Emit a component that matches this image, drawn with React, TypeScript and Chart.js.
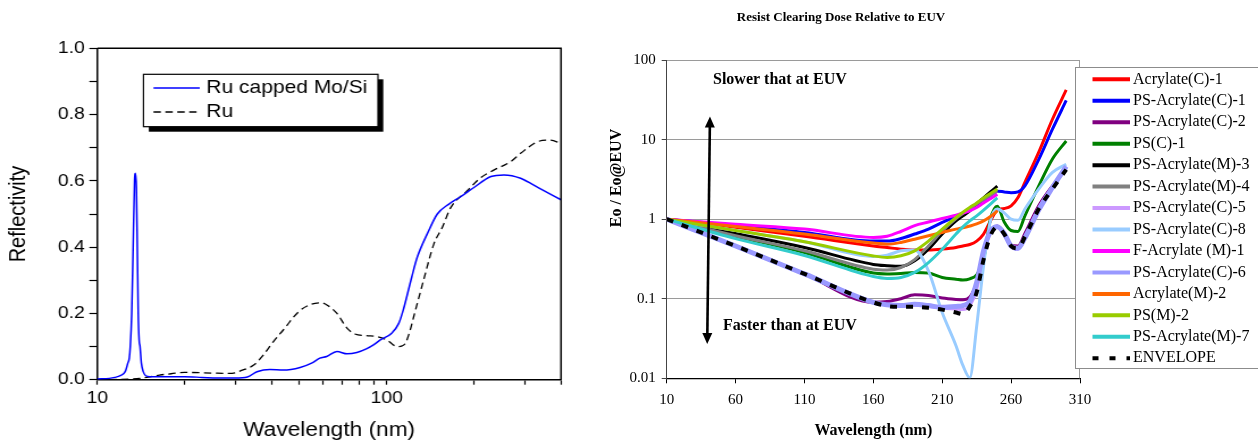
import React, { useEffect, useRef } from "react";
import { Chart, registerables } from "chart.js";

Chart.register(...registerables);

const SANS = '"Liberation Sans", Arial, sans-serif';
const SERIF = '"Liberation Serif", "Times New Roman", serif';

// ---------------- Left chart data (Reflectivity) ----------------
const ruCappedWavelength = [10, 11, 11.5, 12, 12.5, 12.75, 12.9, 13, 13.15, 13.3, 13.45, 13.55, 13.65, 13.75, 13.85, 13.95, 14.05, 14.2, 14.4, 14.7, 15.2, 17, 20, 23, 26, 30, 33, 35.6, 39.5, 43.9, 50.2, 55, 58.7, 62, 67.3, 73, 78.8, 85, 90, 95, 104, 110, 114, 118, 122, 127.5, 138, 149.5, 164, 180, 200, 229, 254, 290, 322, 350, 400];
const ruCappedReflectivity = [0.002, 0.004, 0.007, 0.012, 0.025, 0.05, 0.065, 0.1, 0.2, 0.4, 0.6, 0.623, 0.58, 0.4, 0.2, 0.12, 0.1, 0.05, 0.025, 0.012, 0.009, 0.009, 0.009, 0.007, 0.005, 0.005, 0.008, 0.024, 0.031, 0.029, 0.037, 0.05, 0.065, 0.07, 0.085, 0.078, 0.082, 0.093, 0.105, 0.12, 0.14, 0.17, 0.21, 0.26, 0.31, 0.37, 0.44, 0.5, 0.53, 0.552, 0.58, 0.613, 0.618, 0.608, 0.587, 0.57, 0.543];
const ruWavelength = [10, 12, 13, 14, 15, 16.4, 18, 20, 25, 28, 30, 31.5, 34.7, 37.5, 40.6, 43.9, 49.6, 55, 59.6, 63, 67.3, 73, 77.6, 85, 92.6, 100, 108.8, 113, 116, 120, 123.9, 134, 145.5, 155.6, 166.5, 189.7, 210, 235, 268, 290, 331.5, 366.5, 400];
const ruReflectivity = [0, 0.001, 0.002, 0.004, 0.008, 0.014, 0.018, 0.022, 0.02, 0.019, 0.021, 0.028, 0.044, 0.075, 0.115, 0.15, 0.205, 0.228, 0.232, 0.222, 0.2, 0.155, 0.138, 0.133, 0.13, 0.12, 0.1, 0.102, 0.11, 0.145, 0.19, 0.3, 0.41, 0.46, 0.52, 0.57, 0.608, 0.633, 0.658, 0.683, 0.718, 0.723, 0.713];
const reflectivityLabels = ["Ru capped Mo/Si", "Ru"];
const leftXTickValues = [10, 20, 30, 40, 50, 60, 70, 80, 90, 100, 200, 300, 400];
const leftXLabelled = [10, 100];

// ---------------- Right chart data (Eo / Eo@EUV) ----------------
const doseWavelength = [10, 60, 110, 160, 170, 180, 190, 200, 210, 220, 225, 230, 235, 240, 245, 250, 255, 260, 265, 270, 280, 290, 300];
const acrylateC1 = [1, 0.79, 0.61, 0.46, 0.44, 0.42, 0.41, 0.41, 0.42, 0.44, 0.46, 0.48, 0.53, 0.65, 0.95, 1.3, 1.36, 1.47, 1.87, 2.9, 6.9, 18, 42];
const psAcrylateC1 = [1, 0.83, 0.68, 0.53, 0.53, 0.57, 0.65, 0.75, 0.91, 1.08, 1.18, 1.3, 1.45, 1.65, 1.95, 2.25, 2.2, 2.15, 2.2, 2.62, 5.6, 13.5, 31];
const psAcrylateC2 = [1, 0.46, 0.205, 0.09, 0.092, 0.1, 0.112, 0.11, 0.102, 0.098, 0.097, 0.105, 0.16, 0.38, 0.7, 0.82, 0.64, 0.47, 0.46, 0.66, 1.47, 2.62, 4.25];
const psC1 = [1, 0.61, 0.38, 0.21, 0.205, 0.208, 0.214, 0.21, 0.185, 0.176, 0.172, 0.178, 0.2, 0.31, 1.0, 1.45, 0.92, 0.72, 0.7, 1.1, 2.6, 5.7, 9.6];
const psAcrylateM3 = [1, 0.66, 0.44, 0.27, 0.26, 0.255, 0.3, 0.42, 0.65, 0.95, 1.1, 1.27, 1.55, 1.85, 2.2, 2.6, null, null, null, null, null, null, null];
const psAcrylateM4 = [1, 0.62, 0.4, 0.235, 0.23, 0.247, 0.31, 0.46, 0.71, 1.02, 1.18, 1.34, 1.55, 1.75, 1.98, 2.25, null, null, null, null, null, null, null];
const psAcrylateC5 = [1, 0.46, 0.205, 0.09, 0.083, 0.081, 0.083, 0.08, 0.076, 0.074, 0.073, 0.082, 0.13, 0.36, 0.68, 0.8, 0.65, 0.45, 0.42, 0.6, 1.38, 2.55, 4.6];
const psAcrylateC8 = [1, 0.72, 0.52, 0.34, 0.353, 0.4, 0.41, 0.224, 0.067, 0.0256, 0.0145, 0.0102, 0.045, 0.26, 0.95, 1.34, 1.2, 1.0, 0.97, 1.34, 2.38, 3.86, 4.9];
const fAcrylateM1 = [1, 0.86, 0.75, 0.59, 0.61, 0.7, 0.83, 0.92, 1.02, 1.12, 1.19, 1.27, 1.4, 1.6, 1.8, 2.05, null, null, null, null, null, null, null];
const psAcrylateC6 = [1, 0.46, 0.205, 0.09, 0.084, 0.082, 0.085, 0.082, 0.078, 0.08, 0.082, 0.092, 0.16, 0.4, 0.7, 0.8, 0.66, 0.46, 0.43, 0.58, 1.3, 2.5, 4.6];
const acrylateM2 = [1, 0.81, 0.65, 0.5, 0.485, 0.51, 0.56, 0.62, 0.68, 0.75, 0.78, 0.82, 0.87, 0.95, 1.08, 1.27, null, null, null, null, null, null, null];
const psM2 = [1, 0.72, 0.52, 0.345, 0.33, 0.346, 0.4, 0.53, 0.75, 1.05, 1.22, 1.4, 1.6, 1.85, 2.1, 2.4, null, null, null, null, null, null, null];
const psAcrylateM7 = [1, 0.57, 0.35, 0.19, 0.18, 0.185, 0.214, 0.285, 0.42, 0.65, 0.8, 0.95, 1.1, 1.3, 1.55, 1.85, null, null, null, null, null, null, null];
const envelope = [1, 0.46, 0.205, 0.09, 0.081, 0.079, 0.079, 0.077, 0.073, 0.067, 0.064, 0.08, 0.12, 0.31, 0.62, 0.8, 0.65, 0.46, 0.43, 0.6, 1.34, 2.4, 4.2];

const doseSeriesLabels = [
  "Acrylate(C)-1", "PS-Acrylate(C)-1", "PS-Acrylate(C)-2", "PS(C)-1", "PS-Acrylate(M)-3",
  "PS-Acrylate(M)-4", "PS-Acrylate(C)-5", "PS-Acrylate(C)-8", "F-Acrylate (M)-1",
  "PS-Acrylate(C)-6", "Acrylate(M)-2", "PS(M)-2", "PS-Acrylate(M)-7", "ENVELOPE",
];
const doseSeriesValues = [
  acrylateC1, psAcrylateC1, psAcrylateC2, psC1, psAcrylateM3, psAcrylateM4, psAcrylateC5,
  psAcrylateC8, fAcrylateM1, psAcrylateC6, acrylateM2, psM2, psAcrylateM7, envelope,
];
const doseXTicks = [10, 60, 110, 160, 210, 260, 310];
const doseYTicks = [0.01, 0.1, 1, 10, 100];
const doseNotes = ["Slower that at EUV", "Faster than at EUV"];
const doseTitle = "Resist Clearing Dose Relative to EUV";

// styles
const doseColors = [
  "#FF0000", "#0000FF", "#800080", "#008000", "#000000", "#808080", "#CC99FF",
  "#99CCFF", "#FF00FF", "#9999FF", "#FF6600", "#99CC00", "#33CCCC", "#000000",
];

function ReflectivityChart() {
  const ref = useRef<HTMLCanvasElement | null>(null);
  useEffect(() => {
    if (!ref.current) return;
    const pts = (xs: number[], ys: number[]) => xs.map((x, i) => ({ x, y: ys[i] }));
    const decor = {
      id: "reflDecor",
      afterDraw(chart: any) {
        const { ctx, chartArea: a } = chart;
        ctx.save();
        ctx.strokeStyle = "#000";
        ctx.lineWidth = 1.5;
        ctx.beginPath();
        ctx.moveTo(a.left, a.top);
        ctx.lineTo(a.right, a.top);
        ctx.lineTo(a.right, a.bottom);
        ctx.stroke();
        // legend box with shadow
        const bx = 126.4, by = 74.3, bw = 206.6, bh = 52.4;
        ctx.fillStyle = "#000";
        ctx.fillRect(bx + 4.7, by + 5, bw, bh);
        ctx.fillStyle = "#fff";
        ctx.fillRect(bx, by, bw, bh);
        ctx.lineWidth = 1.2;
        ctx.strokeRect(bx, by, bw, bh);
        chart.data.datasets.forEach((ds: any, i: number) => {
          const y = 88 + i * 24;
          ctx.strokeStyle = ds.borderColor;
          ctx.lineWidth = ds.borderWidth;
          ctx.setLineDash(ds.borderDash || []);
          ctx.beginPath();
          ctx.moveTo(135.2, y);
          ctx.lineTo(176, y);
          ctx.stroke();
          ctx.setLineDash([]);
          ctx.fillStyle = "#000";
          ctx.font = `18.5px ${SANS}`;
          ctx.textAlign = "left";
          ctx.textBaseline = "middle";
          ctx.fillText(ds.label, 181.8, y);
        });
        ctx.restore();
      },
    };
    const chart = new Chart(ref.current, {
      type: "line",
      data: {
        datasets: [
          {
            label: reflectivityLabels[0],
            data: pts(ruCappedWavelength, ruCappedReflectivity),
            borderColor: "#0000FF",
            borderWidth: 1.5,
            pointRadius: 0,
            cubicInterpolationMode: "monotone",
            fill: false,
          },
          {
            label: reflectivityLabels[1],
            data: pts(ruWavelength, ruReflectivity),
            borderColor: "#000000",
            borderWidth: 1.3,
            borderDash: [6.5, 4],
            pointRadius: 0,
            cubicInterpolationMode: "monotone",
            fill: false,
          },
        ],
      },
      options: {
        animation: false,
        responsive: false,
        layout: { padding: { left: 0, right: 25.7, top: 48.3, bottom: 0 } },
        plugins: { legend: { display: false }, tooltip: { enabled: false } },
        scales: {
          x: {
            type: "logarithmic",
            min: 10,
            max: 400,
            afterFit: (s: any) => { s.height = 66.3; },
            afterBuildTicks: (s: any) => { s.ticks = leftXTickValues.map((v) => ({ value: v })); },
            ticks: {
              autoSkip: false,
              maxRotation: 0,
              padding: 3,
              color: "#000",
              font: { family: SANS, size: 17 },
              callback: (v: any) => (leftXLabelled.includes(Number(v)) ? String(v) : ""),
            },
            grid: { drawOnChartArea: false, tickLength: 5, tickColor: "#000", tickWidth: 1.2 },
            border: { color: "#000", width: 1.5 },
            title: {
              display: true,
              text: "Wavelength (nm)",
              color: "#000",
              font: { family: SANS, size: 20 },
              padding: { top: 4, bottom: 4 },
            },
          },
          y: {
            min: 0,
            max: 1,
            afterFit: (s: any) => { s.width = 85.7; },
            ticks: {
              stepSize: 0.1,
              padding: 4,
              color: "#000",
              font: { family: SANS, size: 17 },
              callback: (v: any) => (Math.round(Number(v) * 10) % 2 === 0 ? Number(v).toFixed(1) : ""),
            },
            grid: { drawOnChartArea: false, tickLength: 7, tickColor: "#000", tickWidth: 1.2 },
            border: { color: "#000", width: 1.5 },
            title: {
              display: true,
              text: "Reflectivity",
              color: "#000",
              font: { family: SANS, size: 20 },
              padding: { top: 4, bottom: 4 },
            },
          },
        },
      },
      plugins: [decor],
    } as any);
    return () => chart.destroy();
  }, []);
  return <canvas ref={ref} width={520} height={446} style={{ display: "block" }} />;
}

function DoseChart() {
  const ref = useRef<HTMLCanvasElement | null>(null);
  useEffect(() => {
    if (!ref.current) return;
    const arrowAt = { x: [41.4, 39.4], y: [19.5, 0.027] };
    const notesAt = { x: [43.6, 50.9], y: [56, 0.0453] };
    const decor = {
      id: "doseDecor",
      beforeDatasetsDraw(chart: any) {
        const { ctx, chartArea: a } = chart;
        ctx.save();
        ctx.strokeStyle = "#9a9a9a";
        ctx.lineWidth = 1;
        ctx.beginPath();
        ctx.moveTo(a.right - 0.5, a.top);
        ctx.lineTo(a.right - 0.5, a.bottom);
        ctx.stroke();
        ctx.restore();
      },
      afterDatasetsDraw(chart: any) {
        const { ctx } = chart;
        const xs = chart.scales.x, ys = chart.scales.y;
        ctx.save();
        // double arrow
        const x1 = xs.getPixelForValue(arrowAt.x[0]), y1 = ys.getPixelForValue(arrowAt.y[0]);
        const x2 = xs.getPixelForValue(arrowAt.x[1]), y2 = ys.getPixelForValue(arrowAt.y[1]);
        const len = Math.hypot(x2 - x1, y2 - y1);
        const ux = (x2 - x1) / len, uy = (y2 - y1) / len;
        const head = 11, half = 5;
        ctx.strokeStyle = "#000";
        ctx.fillStyle = "#000";
        ctx.lineWidth = 2.6;
        ctx.beginPath();
        ctx.moveTo(x1 + ux * (head - 1), y1 + uy * (head - 1));
        ctx.lineTo(x2 - ux * (head - 1), y2 - uy * (head - 1));
        ctx.stroke();
        const drawHead = (tx: number, ty: number, dx: number, dy: number) => {
          const bx = tx - dx * head, by = ty - dy * head;
          ctx.beginPath();
          ctx.moveTo(tx, ty);
          ctx.lineTo(bx - dy * half, by + dx * half);
          ctx.lineTo(bx + dy * half, by - dx * half);
          ctx.closePath();
          ctx.fill();
        };
        drawHead(x1, y1, -ux, -uy);
        drawHead(x2, y2, ux, uy);
        // notes
        ctx.font = `bold 16px ${SERIF}`;
        ctx.textAlign = "left";
        ctx.textBaseline = "middle";
        doseNotes.forEach((t, i) => {
          ctx.fillText(t, xs.getPixelForValue(notesAt.x[i]), ys.getPixelForValue(notesAt.y[i]));
        });
        ctx.restore();
      },
      afterDraw(chart: any) {
        const { ctx, chartArea: a } = chart;
        ctx.save();
        // y axis title
        ctx.translate(a.left - 49.7, a.top + 118);
        ctx.rotate(-Math.PI / 2);
        ctx.fillStyle = "#000";
        ctx.font = `bold 16px ${SERIF}`;
        ctx.textAlign = "center";
        ctx.textBaseline = "middle";
        ctx.fillText("Eo / Eo@EUV", 0, 0);
        ctx.restore();
        // legend
        ctx.save();
        const lx = 485.5, ly = 67.5, lw = 220, lh = 301;
        ctx.fillStyle = "#fff";
        ctx.fillRect(lx, ly, lw, lh);
        ctx.strokeStyle = "#8c8c8c";
        ctx.lineWidth = 1;
        ctx.strokeRect(lx, ly, lw, lh);
        chart.data.datasets.forEach((ds: any, i: number) => {
          const y = 79.3 + i * 21.46;
          ctx.strokeStyle = ds.borderColor;
          ctx.lineWidth = 4;
          if (ds.borderDash && ds.borderDash.length) {
            ctx.setLineDash([6, 11]);
          } else {
            ctx.setLineDash([]);
          }
          ctx.beginPath();
          ctx.moveTo(502.5, y);
          ctx.lineTo(540, y);
          ctx.stroke();
          ctx.setLineDash([]);
          ctx.fillStyle = "#000";
          ctx.font = `16px ${SERIF}`;
          ctx.textAlign = "left";
          ctx.textBaseline = "middle";
          ctx.fillText(ds.label, 543, y);
        });
        ctx.restore();
      },
    };
    const datasets = doseSeriesLabels.map((label, i) => {
      const isEnv = i === doseSeriesLabels.length - 1;
      return {
        label,
        data: doseWavelength
          .map((x, j) => ({ x, y: doseSeriesValues[i][j] }))
          .filter((p) => p.y !== null && p.y !== undefined),
        borderColor: doseColors[i],
        borderWidth: isEnv ? 4 : label === "PS-Acrylate(C)-6" ? 5 : 3,
        borderDash: isEnv ? [7, 9] : [],
        borderCapStyle: "butt",
        pointRadius: 0,
        cubicInterpolationMode: "monotone",
        fill: false,
        order: -i,
      };
    });
    const chart = new Chart(ref.current, {
      type: "line",
      data: { datasets },
      options: {
        animation: false,
        responsive: false,
        layout: { padding: { left: 12, right: 178, top: 0, bottom: 0 } },
        plugins: {
          legend: { display: false },
          tooltip: { enabled: false },
          title: {
            display: true,
            text: doseTitle,
            color: "#000",
            font: { family: SERIF, size: 13, weight: "bold" },
            padding: { top: 10, bottom: 34.4 },
          },
        },
        scales: {
          x: {
            type: "linear",
            min: 10,
            max: 310,
            afterFit: (s: any) => { s.height = 67.7; },
            afterBuildTicks: (s: any) => { s.ticks = doseXTicks.map((v) => ({ value: v })); },
            ticks: {
              autoSkip: false,
              maxRotation: 0,
              padding: 8,
              color: "#000",
              font: { family: SERIF, size: 15 },
            },
            grid: { drawOnChartArea: false, tickLength: 5, tickColor: "#000" },
            border: { color: "#000", width: 1.2 },
            title: {
              display: true,
              text: "Wavelength (nm)",
              color: "#000",
              font: { family: SERIF, size: 16, weight: "bold" },
              padding: { top: 0, bottom: 6 },
            },
          },
          y: {
            type: "logarithmic",
            min: 0.01,
            max: 100,
            afterFit: (s: any) => { s.width = 64.7; },
            afterBuildTicks: (s: any) => { s.ticks = doseYTicks.map((v) => ({ value: v })); },
            ticks: {
              padding: 6,
              color: "#000",
              font: { family: SERIF, size: 15 },
              callback: (v: any) => String(v),
            },
            grid: { color: "#9a9a9a", lineWidth: 1, tickLength: 5, tickColor: "#444" },
            border: { color: "#444", width: 1 },
          },
        },
      },
      plugins: [decor],
    } as any);
    return () => chart.destroy();
  }, []);
  return <canvas ref={ref} width={668} height={446} style={{ display: "block" }} />;
}

export default function App() {
  return (
    <div
      style={{
        position: "fixed",
        left: 0,
        top: 0,
        width: 1258,
        height: 440,
        overflow: "hidden",
        background: "#fff",
      }}
    >
      <div
        style={{
          position: "absolute",
          left: 0,
          top: 0,
          width: 520,
          height: 446,
          transform: "scaleX(1.135)",
          transformOrigin: "0 0",
        }}
      >
        <ReflectivityChart />
      </div>
      <div style={{ position: "absolute", left: 590, top: 0, width: 668, height: 446 }}>
        <DoseChart />
      </div>
    </div>
  );
}
